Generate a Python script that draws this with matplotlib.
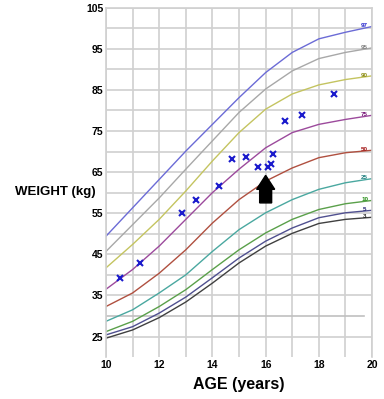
import matplotlib.pyplot as plt

plt.rcParams['font.family'] = ['Liberation Sans', 'DejaVu Sans']

# Ages for percentile curves (years)
ages = [10, 11, 12, 13, 14, 15, 16, 17, 18, 19, 20]

# Weight percentile curves (kg)
p97 = [49.4, 56.3, 63.2, 70.1, 76.6, 83.1, 89.2, 94.1, 97.4, 99.0, 100.4]
p95 = [45.7, 52.2, 58.7, 65.7, 72.6, 79.5, 85.2, 89.6, 92.6, 94.1, 95.2]
p90 = [41.7, 47.4, 53.5, 60.4, 67.7, 74.6, 80.3, 84.0, 86.2, 87.5, 88.4]
p75 = [36.5, 41.3, 47.0, 53.5, 60.0, 65.7, 70.9, 74.6, 76.6, 77.8, 78.8]
p50 = [32.3, 35.6, 40.4, 46.1, 52.6, 58.3, 62.8, 66.0, 68.5, 69.7, 70.3]
p25 = [28.7, 31.5, 35.6, 40.0, 45.7, 51.0, 55.1, 58.3, 60.8, 62.4, 63.4]
p10 = [26.2, 28.7, 32.3, 36.4, 41.3, 46.1, 50.2, 53.5, 55.9, 57.3, 58.1]
p5 = [25.4, 27.4, 30.7, 34.6, 39.3, 44.1, 48.2, 51.4, 53.9, 55.1, 55.7]
p3 = [24.6, 26.6, 29.6, 33.4, 38.0, 42.9, 47.0, 50.1, 52.5, 53.5, 54.0]

curves = [p97, p95, p90, p75, p50, p25, p10, p5, p3]
curve_names = ['97', '95', '90', '75', '50', '25', '10', '5', '3']
curve_colors = ['#6b6bd6', '#a8a8a8', '#c4c460', '#9c4a9c', '#b05040',
                '#4aa8a0', '#5aa04a', '#505090', '#404040']
label_colors = ['#2222cc', '#808080', '#8a8a10', '#7a1a7a', '#a01010',
                '#208080', '#208a10', '#202070', '#202020']

# Patient measurements
pt_age = [10.53, 11.28, 12.87, 13.38, 14.24, 14.73, 15.27, 15.73, 16.10,
          16.20, 16.26, 16.74, 17.35, 18.58]
pt_weight = [39.2, 42.9, 55.1, 58.3, 61.6, 68.1, 68.7, 66.2, 66.2,
             67.0, 69.3, 77.5, 78.8, 83.9]

fig = plt.figure(figsize=(3.84, 3.99), dpi=100)
ax = fig.add_axes([0.276, 0.105, 0.693, 0.876])

ax.set_xlim(10, 20)
ax.set_ylim(20, 105)

# grid
grid_c = '#d0d0d0'
for a in range(10, 21):
    ax.axvline(a, color=grid_c, lw=1.2, zorder=0)
for w in range(25, 106, 5):
    if w == 30:
        ax.axhline(w, xmax=0.97, color='#c0c0c0', lw=1.2, zorder=0)
    else:
        ax.axhline(w, color=grid_c, lw=1.2, zorder=0)

for vals, name, c, lc in zip(curves, curve_names, curve_colors, label_colors):
    ax.plot(ages, vals, color=c, lw=1.0, zorder=2)
    ax.text(19.72, vals[-1] + 0.2, name, color=lc, fontsize=4.5,
            fontweight='bold', ha='center', va='center', zorder=3)

ax.plot(pt_age, pt_weight, 'x', color='#1a1acc', ms=4, mew=1.5, zorder=4)

# arrow pointing at the curve
ax.arrow(16, 57.5, 0, 6.7, width=0.45, head_width=0.68, head_length=3.4,
         length_includes_head=True, fc='black', ec='black', zorder=5)

ax.set_xticks([10, 12, 14, 16, 18, 20])
ax.set_yticks(range(25, 106, 10))
ax.tick_params(length=0, labelsize=7.5, pad=2)
for lab in ax.get_xticklabels() + ax.get_yticklabels():
    lab.set_fontweight('bold')

for s in ax.spines.values():
    s.set_color(grid_c)
    s.set_linewidth(1.2)
ax.spines['bottom'].set_visible(False)

ax.set_xlabel('AGE (years)', fontsize=11.5, fontweight='bold', labelpad=5)
fig.text(0.145, 0.518, 'WEIGHT (kg)', fontsize=9.5, fontweight='bold',
         ha='center', va='center')

fig.savefig('out.png', dpi=100)
